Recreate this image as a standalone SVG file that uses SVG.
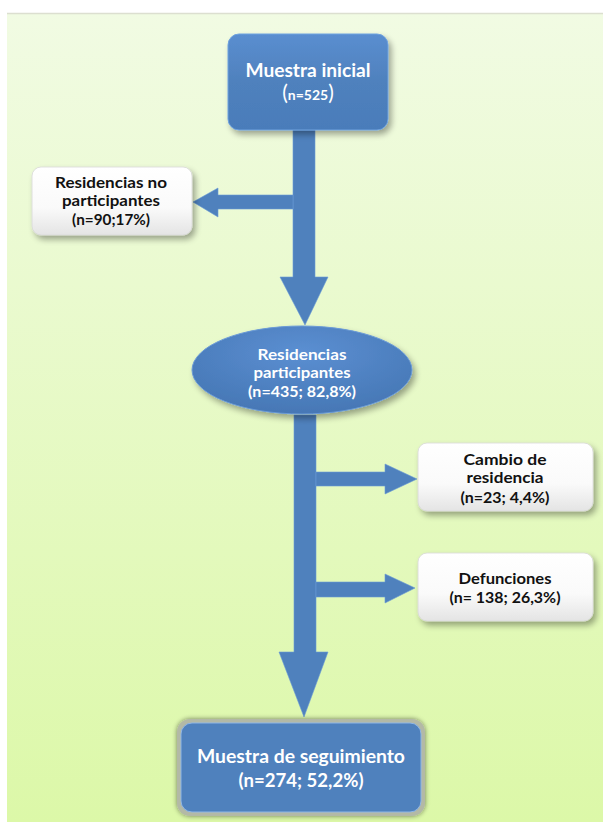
<svg xmlns="http://www.w3.org/2000/svg" width="603" height="828" viewBox="0 0 603 828">
<defs>
<linearGradient id="bg" x1="0" y1="0" x2="0" y2="1">
<stop offset="0" stop-color="#f1fbe3"/>
<stop offset="1" stop-color="#dcf8a8"/>
</linearGradient>
<linearGradient id="blue" x1="0" y1="0" x2="0" y2="1">
<stop offset="0" stop-color="#5a8ed0"/>
<stop offset="0.5" stop-color="#4f81bd"/>
<stop offset="1" stop-color="#4a7cba"/>
</linearGradient>
<linearGradient id="white" x1="0" y1="0" x2="0" y2="1">
<stop offset="0" stop-color="#ffffff"/>
<stop offset="0.6" stop-color="#fafafa"/>
<stop offset="1" stop-color="#e4e4e4"/>
</linearGradient>
<radialGradient id="ell" cx="0.5" cy="0.3" r="0.7">
<stop offset="0" stop-color="#5b8fd2"/>
<stop offset="1" stop-color="#4677b5"/>
</radialGradient>
<filter id="sh" x="-20%" y="-20%" width="150%" height="160%">
<feGaussianBlur in="SourceAlpha" stdDeviation="3"/>
<feOffset dx="3" dy="4" result="b"/>
<feComponentTransfer><feFuncA type="linear" slope="0.35"/></feComponentTransfer>
<feMerge><feMergeNode/><feMergeNode in="SourceGraphic"/></feMerge>
</filter>
<filter id="glow" x="-10%" y="-10%" width="120%" height="130%">
<feGaussianBlur in="SourceAlpha" stdDeviation="2.5"/>
<feComponentTransfer><feFuncA type="linear" slope="0.5"/></feComponentTransfer>
<feMerge><feMergeNode/><feMergeNode in="SourceGraphic"/></feMerge>
</filter>
</defs>
<style>
.w{font-family:"Lato","DejaVu Sans",sans-serif;font-weight:bold;fill:#ffffff;text-anchor:middle}
.k{font-family:"Lato","DejaVu Sans",sans-serif;font-weight:bold;fill:#111111;text-anchor:middle;font-size:15px}
.arr{fill:#4f81bd;stroke:#6a9ad6;stroke-width:0.6}
.wb{fill:url(#white);stroke:#d8d8d8;stroke-width:0.8}
</style>
<rect x="0" y="0" width="603" height="828" fill="#ffffff"/>
<rect x="7" y="13" width="596" height="809" fill="url(#bg)"/>
<line x1="7" y1="13.5" x2="603" y2="13.5" stroke="#dcdfd0" stroke-width="1.5"/>

<g id="connectors">
<polygon class="arr" points="293,130 315,130 315,277 328,277 305,325 280,277 293,277"/>
<polygon class="arr" points="293,195 218,195 218,188 193,202 218,217 218,209 293,209"/>
<polygon class="arr" points="294,415 316,415 316,652 328,652 304,717 279,652 294,652"/>
<polygon class="arr" points="316,472 385,472 385,464 417,479 385,494 385,486 316,486"/>
<polygon class="arr" points="316,582 385,582 385,574 415,588 385,603 385,597 316,597"/>
</g>

<g id="node-inicial">
<rect x="228" y="34" width="160" height="96" rx="11" fill="url(#blue)" stroke="#6fa2de" stroke-width="1" filter="url(#sh)"/>
<text class="w" x="308" y="77" font-size="18" textLength="125" lengthAdjust="spacingAndGlyphs">Muestra inicial</text>
<text class="w" x="308" y="100" font-size="14"><tspan font-size="21" font-weight="normal">(</tspan>n=525<tspan font-size="21" font-weight="normal">)</tspan></text>
</g>

<g id="node-noparticipantes">
<rect x="32" y="167" width="160" height="68" rx="9" class="wb" filter="url(#sh)"/>
<text class="k" x="111" y="188" textLength="112" lengthAdjust="spacingAndGlyphs">Residencias no</text>
<text class="k" x="111" y="206" textLength="98" lengthAdjust="spacingAndGlyphs">participantes</text>
<text class="k" x="111" y="225" textLength="78" lengthAdjust="spacingAndGlyphs">(n=90;17%)</text>
</g>

<g id="node-participantes">
<ellipse cx="302" cy="370" rx="110" ry="44" fill="url(#ell)" stroke="#6a9ad6" stroke-width="1" filter="url(#sh)"/>
<text class="w" x="302" y="360" font-size="15" textLength="89" lengthAdjust="spacingAndGlyphs">Residencias</text>
<text class="w" x="302" y="378" font-size="15" textLength="97" lengthAdjust="spacingAndGlyphs">participantes</text>
<text class="w" x="302" y="397" font-size="15" textLength="108" lengthAdjust="spacingAndGlyphs">(n=435; 82,8%)</text>
</g>

<g id="node-cambio">
<rect x="418" y="443" width="175" height="68" rx="9" class="wb" filter="url(#sh)"/>
<text class="k" x="505" y="465" textLength="83" lengthAdjust="spacingAndGlyphs">Cambio de</text>
<text class="k" x="505" y="483" textLength="77" lengthAdjust="spacingAndGlyphs">residencia</text>
<text class="k" x="505" y="503" textLength="89" lengthAdjust="spacingAndGlyphs">(n=23; 4,4%)</text>
</g>

<g id="node-defunciones">
<rect x="418" y="553" width="175" height="68" rx="9" class="wb" filter="url(#sh)"/>
<text class="k" x="505" y="584" textLength="93" lengthAdjust="spacingAndGlyphs">Defunciones</text>
<text class="k" x="505" y="603" textLength="111" lengthAdjust="spacingAndGlyphs">(n= 138; 26,3%)</text>
</g>

<g id="node-seguimiento">
<rect x="177" y="719" width="248" height="97" rx="13" fill="#b3b9a6" filter="url(#glow)"/>
<rect x="181" y="723" width="240" height="89" rx="11" fill="#4f81bd" stroke="#8fb6e6" stroke-width="1"/>
<text class="w" x="301" y="763" font-size="18" textLength="208" lengthAdjust="spacingAndGlyphs">Muestra de seguimiento</text>
<text class="w" x="301" y="787" font-size="18" textLength="125" lengthAdjust="spacingAndGlyphs">(n=274; 52,2%)</text>
</g>
</svg>
